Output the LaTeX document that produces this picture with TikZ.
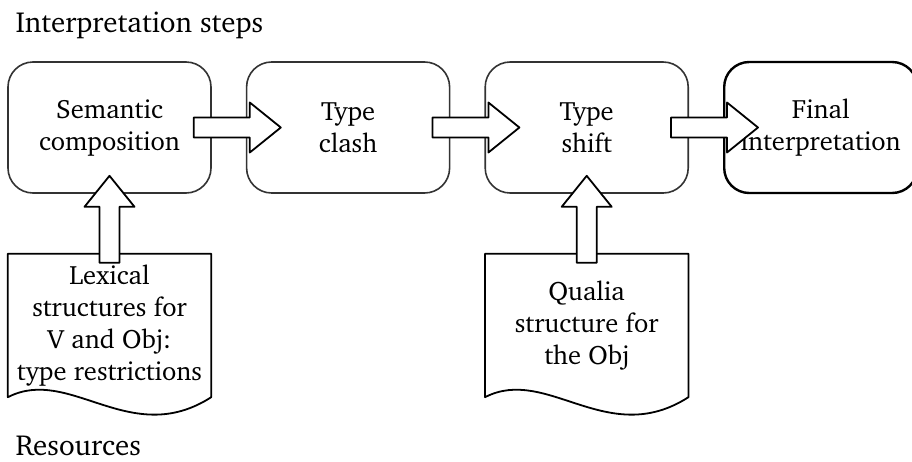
\documentclass[tikz,border=0pt]{standalone}
\usepackage[T1]{fontenc}
\usepackage{charter}
\usetikzlibrary{calc}
\usetikzlibrary{positioning}

\definecolor{stepgray}{gray}{0.2}

\tikzset{
  heading/.style={anchor=base west,font=\fontsize{29}{34}\selectfont},
  stepbox/.style={draw=stepgray,line width=1.6pt,rounded corners=25pt,
    minimum width=203pt,minimum height=131pt,align=center,inner sep=0pt},
  finalbox/.style={stepbox,draw=black,line width=2.4pt,minimum width=193pt},
  docbox/.style={minimum width=203pt,minimum height=143pt,align=center,inner sep=0pt},
  docline/.style={draw,line width=1.8pt,line join=round},
  blockarrow/.style={draw,fill=white,line width=1.8pt,line join=round,
    to path={let \p1=(\tikztostart), \p2=(\tikztotarget), \p3=($(\p2)!31pt!(\p1)$) in
      ($(\p1)!10pt!90:(\p2)$) -- ($(\p3)!10pt!-90:(\p1)$) -- ($(\p3)!25pt!-90:(\p1)$) -- (\p2)
      -- ($(\p3)!25pt!90:(\p1)$) -- ($(\p3)!10pt!90:(\p1)$) -- ($(\p1)!10pt!-90:(\p2)$) -- cycle}}
}

\begin{document}
\begin{tikzpicture}[x=1pt,y=-1pt,font=\fontsize{26.5}{32}\selectfont,node distance=34pt]

  \useasboundingbox (0,0) rectangle (912,461);

  \node [heading] (steps) at (12,32) {Interpretation steps};
  \node [heading] (res) at (12,455) {Resources};

  % the four steps
  \node [stepbox] (sem) at (109.5,127.5) {Semantic\\composition};
  \node [stepbox,right=of sem] (clash) {Type\\clash};
  \node [stepbox,right=of clash] (shift) {Type\\shift};
  \node [finalbox,right=of shift] (final) {Final\\interpretation};

  % resources under the steps
  \node [docbox] (lex) at (109.5,325.5) {Lexical\\structures for\\V and Obj:\\type restrictions};
  \node [docbox] (qua) at (shift |- lex) {Qualia\\structure for\\the Obj};

  \foreach \d in {lex,qua}
    \draw [docline] (\d.south west) -- (\d.north west) -- (\d.north east) -- (\d.south east)
      .. controls ($(\d.south east)+(-81,52)$) and ($(\d.south west)+(62,-32)$) .. (\d.south west) -- cycle;

  % block arrows
  \draw [blockarrow] ($(sem.east)+(-18,0)$) to ($(clash.west)+(35,0)$);
  \draw [blockarrow] ($(clash.east)+(-18,0)$) to ($(shift.west)+(35,0)$);
  \draw [blockarrow] ($(shift.east)+(-18,0)$) to ($(final.west)+(35,0)$);
  \draw [blockarrow] ($(lex.north)+(0,9)$) to ($(sem.south)+(0,-18)$);
  \draw [blockarrow] ($(qua.north)+(0,9)$) to ($(shift.south)+(0,-18)$);

\end{tikzpicture}
\end{document}
